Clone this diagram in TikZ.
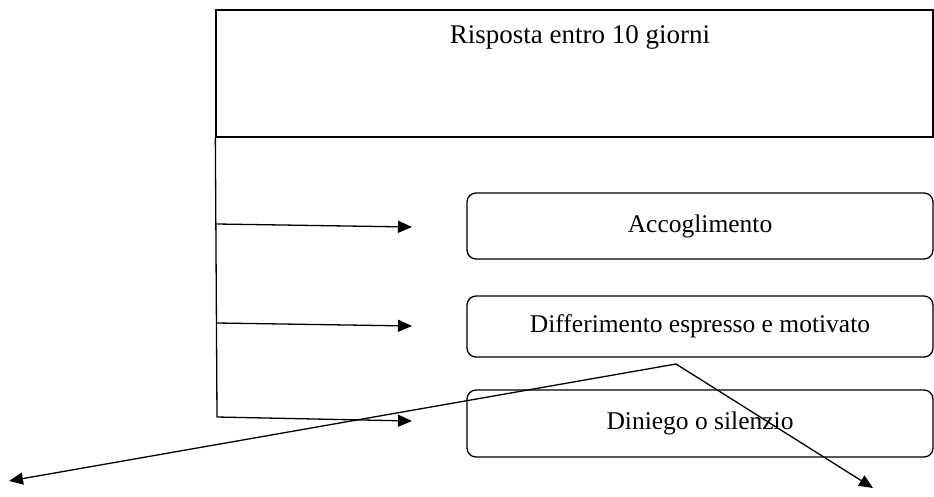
\documentclass[tikz,border=0pt]{standalone}
\usepackage{fontspec}
\setmainfont{Liberation Serif}
\usetikzlibrary{arrows.meta}

\tikzset{
    riquadro/.style={draw, line width=1.3pt, inner sep=0pt},
    scelta/.style={riquadro, rounded corners=9pt, minimum width=466pt},
    freccia/.style={line width=1.3pt, -{Triangle[length=14pt,width=12pt]}},
    testo/.style={font=\fontsize{25.5}{30}\selectfont}
}

\begin{document}
\begin{tikzpicture}[x=1pt, y=-1pt]
            \useasboundingbox (0,0) rectangle (934,496);

            % Top box
            \node[riquadro, minimum width=717pt, minimum height=127pt] (risposta) at (574.5,73.5) {};
            \node[font=\fontsize{27}{32}\selectfont] (titolo) at (580,37) {Risposta entro 10 giorni};

            % Options
            \node[scelta, testo, minimum height=66pt] (accoglimento) at (700,226) {Accoglimento};
            \node[scelta, testo, minimum height=61pt] (differimento) at (700,326.5) {Differimento espresso e motivato};
            \node[scelta, testo, minimum height=67pt] (diniego) at (700,423.5) {Diniego o silenzio};

            % Vertical line and arrows
            \coordinate (snodo) at (217,417);
            \draw[line width=1.3pt] (risposta.south west) -- (snodo);
            \foreach \ya/\yb [count=\k] in {224/227, 323/326, 417/421} {
                \coordinate (da\k) at (217,\ya);
                \coordinate (a\k) at (412,\yb);
                \draw[freccia] (da\k) -- (a\k);
            }

            % Crossing arrows
            \coordinate (vertice) at (676,364);
            \coordinate (sinistra) at (9,481);
            \coordinate (destra) at (873,488);
            \draw[freccia] (vertice) -- (sinistra);
            \draw[freccia] (vertice) -- (destra);
        \end{tikzpicture}
\end{document}
